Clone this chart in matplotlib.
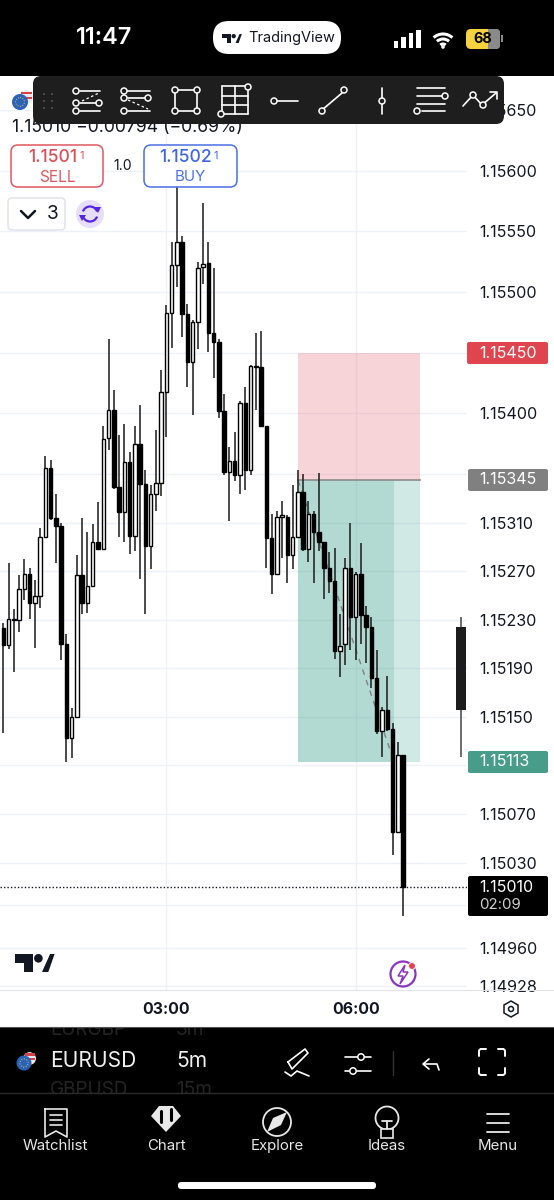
import matplotlib

matplotlib.use("Agg")
import matplotlib.pyplot as plt
from matplotlib.patches import Arc, Circle, FancyBboxPatch, Polygon, Rectangle

plt.rcParams["font.family"] = ["Inter", "DejaVu Sans"]

W, H = 554, 1200

OPENS = [1.15223, 1.15209, 1.15230, 1.15230, 1.15255, 1.15268, 1.15244, 1.15250, 1.15298, 1.15355, 1.15314,
         1.15307, 1.15210, 1.15133, 1.15150, 1.15267, 1.15244, 1.15258, 1.15294, 1.15288, 1.15380, 1.15403,
         1.15339, 1.15319, 1.15360, 1.15299, 1.15375, 1.15342, 1.15291, 1.15334, 1.15343, 1.15418, 1.15483,
         1.15522, 1.15541, 1.15482, 1.15442, 1.15475, 1.15521, 1.15524, 1.15466, 1.15459, 1.15402, 1.15352,
         1.15361, 1.15349, 1.15409, 1.15353, 1.15438, 1.15438, 1.15390, 1.15297, 1.15268, 1.15315, 1.15315,
         1.15283, 1.15298, 1.15335, 1.15288, 1.15317, 1.15302, 1.15294, 1.15273, 1.15262, 1.15204, 1.15210,
         1.15273, 1.15232, 1.15268, 1.15234, 1.15224, 1.15182, 1.15138, 1.15156, 1.15140, 1.15055, 1.15119]
CLOSES = [1.15209, 1.15231, 1.15231, 1.15255, 1.15268, 1.15244, 1.15250, 1.15298, 1.15355, 1.15314, 1.15307,
          1.15210, 1.15133, 1.15150, 1.15267, 1.15244, 1.15258, 1.15294, 1.15288, 1.15379, 1.15403, 1.15339,
          1.15319, 1.15360, 1.15299, 1.15375, 1.15342, 1.15291, 1.15334, 1.15343, 1.15418, 1.15483, 1.15522,
          1.15541, 1.15482, 1.15442, 1.15475, 1.15520, 1.15523, 1.15466, 1.15459, 1.15402, 1.15352, 1.15361,
          1.15349, 1.15409, 1.15353, 1.15439, 1.15439, 1.15390, 1.15297, 1.15268, 1.15315, 1.15316, 1.15283,
          1.15298, 1.15335, 1.15288, 1.15317, 1.15302, 1.15294, 1.15273, 1.15262, 1.15204, 1.15208, 1.15273,
          1.15232, 1.15268, 1.15234, 1.15224, 1.15182, 1.15138, 1.15156, 1.15140, 1.15055, 1.15119, 1.15010]
HIGHS = [1.15227, 1.15277, 1.15239, 1.15267, 1.15280, 1.15273, 1.15263, 1.15306, 1.15365, 1.15362, 1.15334,
         1.15310, 1.15218, 1.15157, 1.15283, 1.15314, 1.15302, 1.15309, 1.15327, 1.15390, 1.15461, 1.15419,
         1.15382, 1.15391, 1.15368, 1.15390, 1.15407, 1.15353, 1.15341, 1.15386, 1.15436, 1.15489, 1.15541,
         1.15587, 1.15546, 1.15490, 1.15477, 1.15525, 1.15573, 1.15541, 1.15520, 1.15461, 1.15416, 1.15372,
         1.15385, 1.15410, 1.15422, 1.15440, 1.15466, 1.15468, 1.15390, 1.15317, 1.15320, 1.15328, 1.15316,
         1.15341, 1.15353, 1.15350, 1.15328, 1.15320, 1.15351, 1.15294, 1.15286, 1.15289, 1.15235, 1.15281,
         1.15310, 1.15269, 1.15293, 1.15241, 1.15232, 1.15205, 1.15158, 1.15184, 1.15145, 1.15129, 1.15119]
LOWS = [1.15137, 1.15206, 1.15187, 1.15220, 1.15246, 1.15231, 1.15207, 1.15240, 1.15298, 1.15312, 1.15277,
        1.15197, 1.15113, 1.15116, 1.15150, 1.15235, 1.15236, 1.15258, 1.15288, 1.15288, 1.15370, 1.15338,
        1.15298, 1.15294, 1.15284, 1.15287, 1.15264, 1.15235, 1.15272, 1.15320, 1.15332, 1.15381, 1.15454,
        1.15504, 1.15463, 1.15422, 1.15399, 1.15453, 1.15507, 1.15451, 1.15429, 1.15396, 1.15349, 1.15311,
        1.15344, 1.15334, 1.15337, 1.15349, 1.15403, 1.15389, 1.15273, 1.15251, 1.15267, 1.15281, 1.15260,
        1.15272, 1.15297, 1.15287, 1.15278, 1.15260, 1.15287, 1.15247, 1.15252, 1.15198, 1.15183, 1.15193,
        1.15205, 1.15197, 1.15210, 1.15194, 1.15174, 1.15136, 1.15117, 1.15138, 1.15036, 1.15055, 1.14986]

# the wide candle in the right margin
GHOST_BAR = 87
GHOST_OHLC = [1.15224, 1.15232, 1.15117, 1.15156]

PRICE_TICKS = [1.15650, 1.15600, 1.15550, 1.15500, 1.15450, 1.15400, 1.15350, 1.15310, 1.15270, 1.15230,
               1.15190, 1.15150, 1.15110, 1.15070, 1.15030, 1.14995, 1.14960, 1.14928]
# ticks sitting behind a price tag draw only their grid line
PRICE_LABELS = ["1.15650", "1.15600", "1.15550", "1.15500", "", "1.15400", "", "1.15310", "1.15270", "1.15230",
                "1.15190", "1.15150", "", "1.15070", "1.15030", "", "1.14960", "1.14928"]
TIME_TICKS = [31, 67]
TIME_LABELS = ["03:00", "06:00"]

STOP = 1.15450
ENTRY = 1.15345
TARGET = 1.15113
LAST = 1.15010
TOOL_START, TOOL_SPLIT, TOOL_END = 56.03, 74.3, 79.2

NAV_LABELS = ["Watchlist", "Chart", "Explore", "Ideas", "Menu"]

fig = plt.figure(figsize=(W / 100, H / 100), dpi=100, facecolor="white")

# chart pane, px 0..467 across and 76..990 down
ax = fig.add_axes([0, 1 - 990 / H, 467 / W, 914 / H])
ax.set_xlim(-0.63, 88.16)
ax.set_ylim(1.14925, 1.15678)
for s in ax.spines.values():
    s.set_visible(False)
ax.yaxis.tick_right()
ax.set_yticks(PRICE_TICKS, PRICE_LABELS)
ax.set_xticks(TIME_TICKS, TIME_LABELS)
ax.tick_params(axis="y", length=0, pad=8.5, labelsize=11.6, labelcolor="#131722")
ax.tick_params(axis="x", length=0, pad=8.5, labelsize=11.4, labelcolor="#131722")
for t in ax.get_xticklabels():
    t.set_fontweight("bold")
ax.grid(color="#eef1f7", lw=1)
ax.set_axisbelow(True)

# position tool, see-through so the grid still shows
ax.add_patch(Rectangle((TOOL_START, ENTRY), TOOL_END - TOOL_START, STOP - ENTRY, fc=(0.89, 0.36, 0.42, 0.26),
                       ec="none", zorder=1))
ax.add_patch(Rectangle((TOOL_START, TARGET), TOOL_SPLIT - TOOL_START, ENTRY - TARGET, fc=(0.25, 0.64, 0.57, 0.4),
                       ec="none", zorder=1))
ax.add_patch(Rectangle((TOOL_SPLIT, TARGET), TOOL_END - TOOL_SPLIT, ENTRY - TARGET, fc=(0.25, 0.64, 0.57, 0.24),
                       ec="none", zorder=1))
ax.plot([TOOL_START, TOOL_END], [ENTRY, ENTRY], color="#8a8a8a", lw=1.2, zorder=1.5)
ax.plot([TOOL_START, TOOL_SPLIT], [ENTRY, TARGET], color="#808080", lw=1, ls=(0, (4, 4)), zorder=1.5)
ax.axhline(LAST, color="#131722", lw=1, ls=(0, (1, 1.5)), zorder=1.6)

for i, (o, h, l, c) in enumerate(zip(OPENS, HIGHS, LOWS, CLOSES)):
    ax.vlines(i, l, h, color="#222222", lw=1.15, zorder=2)
    up = c >= o
    ax.bar(i, max(abs(c - o), 1e-5), bottom=min(o, c), width=0.66, facecolor="white" if up else "black",
           edgecolor="black", lw=1.0, zorder=3)

ax.vlines(GHOST_BAR, GHOST_OHLC[2], GHOST_OHLC[1], color="#444444", lw=1.1, zorder=2)
ax.bar(GHOST_BAR, GHOST_OHLC[0] - GHOST_OHLC[3], bottom=GHOST_OHLC[3], width=1.9, color="#1c1c1c", zorder=3)

# phone and app chrome, in screen pixels
ui = fig.add_axes([0, 0, 1, 1], facecolor="none")
ui.set_xlim(0, W)
ui.set_ylim(H, 0)
ui.axis("off")


def line(xs, ys, color="white", lw=1.2, z=6, **kw):
    ui.plot(xs, ys, color=color, lw=lw, zorder=z, solid_capstyle="round", **kw)


def dot(x, y, r=3.0, ec="white", fc="#1e1e1e", lw=1.1, z=7):
    ui.add_patch(Circle((x, y), r, fc=fc, ec=ec, lw=lw, zorder=z))


def box(x0, y0, x1, y1, fc, ec="none", r=4, lw=1.0, z=5):
    ui.add_patch(FancyBboxPatch((x0 + r, y0 + r), x1 - x0 - 2 * r, y1 - y0 - 2 * r,
                                boxstyle=f"round,pad={r},rounding_size={r}", fc=fc, ec=ec, lw=lw, zorder=z))


def label(x, y, s, size, color="#131722", ha="center", weight="normal", z=8):
    return ui.text(x, y, s, fontsize=size * 0.72, color=color, ha=ha, va="center", fontweight=weight, zorder=z)


def tv_logo(x, y, s, color):
    # s is the pixel height of the mark
    ui.add_patch(Polygon([(x, y), (x + s, y), (x + s, y + s), (x + 0.5 * s, y + s), (x + 0.5 * s, y + 0.48 * s),
                          (x, y + 0.48 * s)], fc=color, ec="none", zorder=8))
    ui.add_patch(Circle((x + 1.3 * s, y + 0.24 * s), 0.24 * s, fc=color, ec="none", zorder=8))
    ui.add_patch(Polygon([(x + 1.5 * s, y + s), (x + 1.95 * s, y), (x + 2.2 * s, y), (x + 1.85 * s, y + s)],
                         fc=color, ec="none", zorder=8))


def flag_pair(x, y, r):
    ui.add_patch(Circle((x + 0.75 * r, y - 0.6 * r), r * 0.85, fc="#e8e8ee", ec="none", zorder=7))
    ui.add_patch(Rectangle((x + 0.1 * r, y - 1.3 * r), 1.4 * r, 0.3 * r, fc="#d8404a", zorder=7.1))
    ui.add_patch(Rectangle((x + 0.2 * r, y - 0.65 * r), 1.3 * r, 0.3 * r, fc="#d8404a", zorder=7.1))
    ui.add_patch(Circle((x, y), r, fc="#2a62b8", ec="none", zorder=7.5))
    ui.add_patch(Circle((x, y), r * 0.55, fc="none", ec="#e6c64a", lw=0.7, ls=":", zorder=7.6))


# status bar and bottom bars
ui.add_patch(Rectangle((0, 0), W, 76, fc="black", zorder=4))
ui.add_patch(Rectangle((0, 1027), W, 173, fc="black", zorder=1))
# neighbouring rows of the symbol picker, cut off by the bar they scroll in
row_clip = Rectangle((0, 1027), W, 66, transform=ui.transData)
for x, y, s in [(50, 1030, "EURGBP"), (176, 1030, "3m"), (50, 1090, "GBPUSD"), (176, 1090, "15m")]:
    t = label(x, y, s, 19, color="#242424", ha="left", z=2)
    t.set_clip_on(True)
    t.set_clip_path(row_clip)
ui.plot([0, W], [1093, 1093], color="#2b2b2b", lw=1, zorder=3.5)
ui.plot([0, W], [990, 990], color="#e0e3eb", lw=0.8, zorder=3.5)
ui.plot([0, W], [1027, 1027], color="#555555", lw=0.8, zorder=3.5)

label(104, 38, "11:47", 23.5, color="white", weight="semibold")
box(213, 21, 341, 54, "white", r=16)
tv_logo(222, 34, 9, "#131722")
label(248, 38, "TradingView", 14.5, ha="left")
for bx, bh in zip([393.5, 401, 408.5, 416], [7, 11, 15, 18]):
    ui.add_patch(Rectangle((bx, 48 - bh), 4.5, bh, fc="white", zorder=7))
for r in [14, 9, 4]:
    ui.add_patch(Arc((443, 48), 2 * r, 2 * r, theta1=228, theta2=312, color="white", lw=2.2, zorder=7))
ui.add_patch(Circle((443, 47), 1.8, fc="white", zorder=7))
box(466, 29, 500, 49, "#f6d23f", r=5)
box(488, 29, 500, 49, "#8a8a8a", r=4, z=5.5)
ui.add_patch(Rectangle((488, 29), 6, 20, fc="#8a8a8a", zorder=5.5))
ui.add_patch(Rectangle((501, 35), 1.8, 7, fc="#8a8a8a", zorder=5.5))
label(483, 39, "68", 14.5, color="black", weight="bold")

# legend and trade buttons
flag_pair(20, 102, 8)
label(12, 127, "1.15010 \u22120.00794 (\u22120.69%)", 17.6, ha="left", z=4)
box(11, 145, 103, 187, "white", "#e0575f", r=7, lw=1.1)
box(144, 145, 237, 187, "white", "#4a6fe3", r=7, lw=1.1)
label(53, 158, "1.1501", 17.5, color="#d8505a", weight="medium")
label(82, 156, "1", 11, color="#d8505a")
label(57, 177, "SELL", 15.5, color="#e0575f")
label(186, 158, "1.1502", 17.5, color="#3f66e0", weight="medium")
label(216, 156, "1", 11, color="#3f66e0")
label(190, 177, "BUY", 15, color="#4a6fe3")
label(123, 166, "1.0", 14)
box(8, 198, 65, 230, "white", "#e0e3eb", r=4, lw=1.1)
line([21, 28, 35], [211, 218, 211], color="#131722", lw=1.8)
label(53, 214, "3", 19)
ui.add_patch(Circle((90, 214), 14, fc="#e6defb", ec="none", zorder=6))
ui.add_patch(Arc((90, 214), 15, 15, theta1=200, theta2=340, color="#5426e0", lw=1.6, zorder=7))
ui.add_patch(Arc((90, 214), 15, 15, theta1=20, theta2=160, color="#5426e0", lw=1.6, zorder=7))
ui.add_patch(Polygon([(94, 207), (101, 207), (98, 213)], fc="#5426e0", ec="none", zorder=7))
ui.add_patch(Polygon([(79, 215), (86, 215), (82, 221)], fc="#5426e0", ec="none", zorder=7))

# floating drawing toolbar
box(33, 76, 504, 124, "#1e1e1e", r=8, z=6)
for dx in [44, 52]:
    for dy in [94, 101, 108]:
        ui.add_patch(Circle((dx, dy), 1, fc="#555555", zorder=7))
line([80, 100], [91, 91]); dot(76, 91)
line([80, 99], [103, 103]); dot(76, 103); dot(99, 103)
line([80, 100], [111, 111]); dot(76, 111)
line([82, 99], [101, 93], lw=0.9, ls=(0, (2, 2)))
line([126, 150], [91, 91]); dot(124, 91)
line([128, 146], [98, 98]); dot(124, 98); dot(148, 98)
line([128, 150], [111, 111]); dot(124, 111)
line([128, 148], [100, 109], lw=0.9, ls=(0, (2, 2)))
line([175, 197, 197, 175, 175], [90, 90, 111, 111, 90]); dot(175, 90); dot(197, 90); dot(175, 111); dot(197, 111)
for gx in [222, 235, 248]:
    line([gx, gx], [86, 114])
line([222, 248], [86, 86]); line([222, 248], [96, 96]); line([222, 248], [105, 105]); line([222, 248], [114, 114])
dot(248, 87); dot(221, 114)
line([274, 298], [101, 101]); dot(274, 101)
line([322, 342], [110, 93]); dot(322, 111); dot(344, 90)
line([382, 382], [88, 114]); dot(382, 101)
line([417, 445], [88, 88]); line([417, 442], [96, 96]); dot(445, 96)
line([417, 445], [104, 104]); line([422, 445], [111, 111]); dot(417, 111)
line([463, 473, 482, 496], [106, 95, 105, 93]); dot(473, 95); dot(483, 105)
line([490, 497, 497], [92, 92, 99])

# price tags
box(467, 342, 548, 364, "#e0444e", r=2)
label(479, 353, "1.15450", 16, color="white", ha="left")
box(468, 469, 548, 491, "#808080", r=2)
label(479, 480, "1.15345", 16, color="white", ha="left")
box(468, 751, 548, 773, "#489c8a", r=2)
label(479, 762, "1.15113", 16, color="white", ha="left")
box(468, 876, 548, 916, "black", r=2)
label(479, 887, "1.15010", 16, color="white", ha="left")
label(479, 905, "02:09", 15, color="#cfcfcf", ha="left")

# chart watermark and corner icons
tv_logo(15, 954, 18, "#131722")
ui.add_patch(Circle((403, 974), 12.5, fc="white", ec="#8a35c0", lw=1.6, zorder=6))
ui.add_patch(Polygon([(405, 965), (398, 976), (403, 976), (400, 984), (408, 972), (403, 972)], fc="none",
                     ec="#8a35c0", lw=1.1, zorder=7))
ui.add_patch(Circle((412, 966), 3.4, fc="#e0444e", ec="white", lw=0.6, zorder=8))
ui.add_patch(Polygon([(511, 1001), (518, 1005), (518, 1013), (511, 1017), (504, 1013), (504, 1005)], fc="none",
                     ec="#131722", lw=1.1, closed=True, zorder=7))
ui.add_patch(Circle((511, 1009), 2.5, fc="none", ec="#131722", lw=1.1, zorder=7))

# symbol row
flag_pair(24, 1063, 7.5)
label(50, 1061, "EURUSD", 21, color="#f0f0f0", ha="left")
label(176, 1061, "5m", 21, color="#f0f0f0", ha="left")
line([288, 305, 308, 292, 288], [1062, 1049, 1053, 1069, 1062], lw=1.2)
line([285, 291, 297, 309], [1072, 1076, 1071, 1076], lw=1.2)
line([345, 371], [1057, 1057]); dot(361, 1057, 3.2, fc="black")
line([345, 371], [1071, 1071]); dot(353, 1071, 3.2, fc="black")
line([393, 393], [1051, 1075], color="#333333", lw=1)
line([424, 437, 439], [1064, 1064, 1070]); line([429, 423, 429], [1059, 1064, 1069])
for cx, cy, sx, sy in [(479, 1049, 1, 1), (505, 1049, -1, 1), (479, 1075, 1, -1), (505, 1075, -1, -1)]:
    line([cx + 7 * sx, cx + 1.5 * sx, cx, cx], [cy, cy, cy + 1.5 * sy, cy + 7 * sy], lw=1.4)

# nav bar
for x, s in zip([55, 166, 277, 387, 498], NAV_LABELS):
    label(x, 1146, s, 15, color="#e8e8e8")
line([45, 67, 67, 56, 45, 45], [1109, 1109, 1137, 1131, 1137, 1109], color="#e8e8e8")
for yy in [1115, 1120, 1125]:
    line([50, 62], [yy, yy], color="#e8e8e8")
ui.add_patch(Polygon([(151, 1116), (159, 1106), (173, 1106), (181, 1116), (166, 1132)], fc="#e8e8e8", ec="none", zorder=6))
for xx, y0, y1 in [(161, 1111, 1122), (171, 1109, 1120)]:
    line([xx, xx], [y0, y1], color="black", lw=2.2, z=7)
ui.add_patch(Circle((277, 1122), 14, fc="none", ec="#e8e8e8", lw=1.3, zorder=6))
ui.add_patch(Polygon([(287, 1112), (273, 1118), (267, 1132), (281, 1125)], fc="#e8e8e8", ec="none", zorder=6))
ui.add_patch(Circle((387, 1118), 11.5, fc="none", ec="#e8e8e8", lw=1.3, zorder=6))
ui.add_patch(Rectangle((381, 1129), 12, 9, fc="black", ec="#e8e8e8", lw=1.2, zorder=7))
line([382, 392], [1121, 1121], color="#e8e8e8", lw=1.3, z=8)
line([387, 387], [1121, 1129], color="#e8e8e8", lw=1.3, z=8)
for yy in [1114, 1123, 1132]:
    line([487, 509], [yy, yy], color="#e8e8e8", lw=1.3)
box(178, 1182, 376, 1189, "white", r=3)

fig.savefig("out.png", dpi=100, facecolor="white")
